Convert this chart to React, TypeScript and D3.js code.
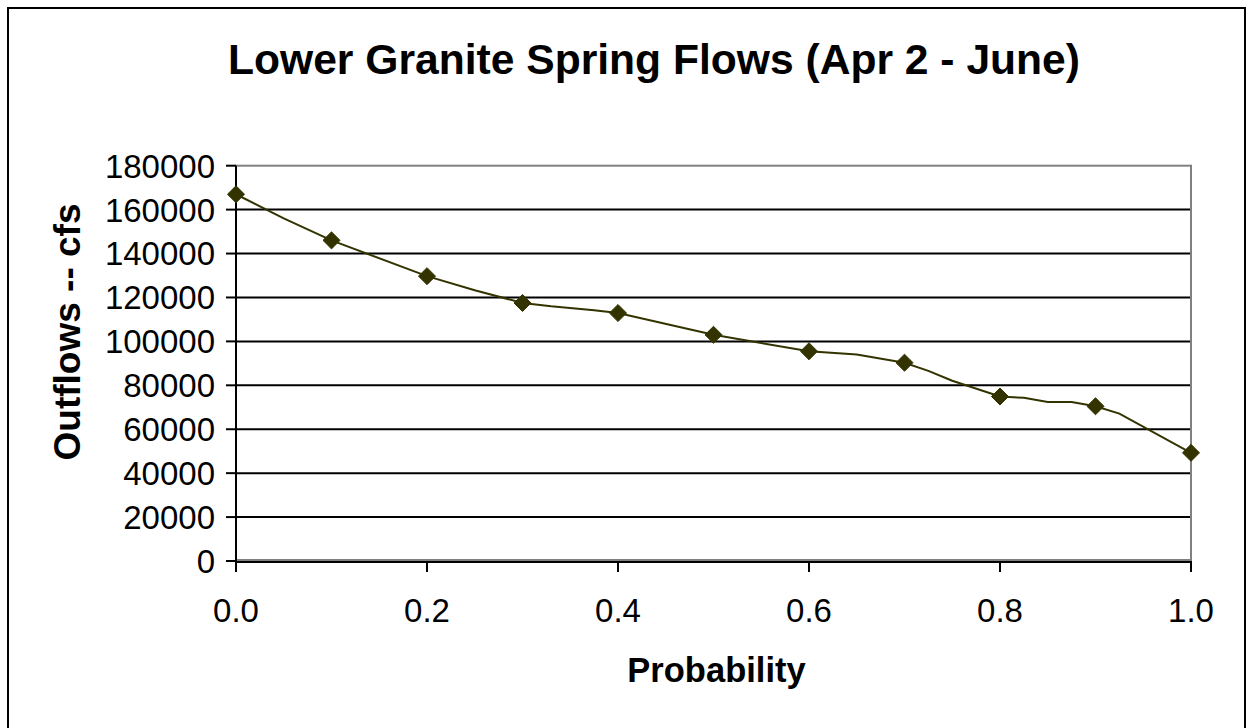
import React from "react";
import * as d3 from "d3";

const title = "Lower Granite Spring Flows (Apr 2 - June)";
const xTitle = "Probability";
const yTitle = "Outflows -- cfs";

// marker points (every 0.1)
const markerProb = [0.0, 0.1, 0.2, 0.3, 0.4, 0.5, 0.6, 0.7, 0.8, 0.9, 1.0];
const markerFlow = [167000, 146000, 129700, 117500, 112900, 103000, 95500, 90300, 74900, 70450, 49250];

// line points (polyline through more points)
const lineProb = [0.0, 0.05, 0.1, 0.2, 0.25, 0.3, 0.33, 0.375, 0.4, 0.5, 0.6, 0.65, 0.7, 0.725, 0.75, 0.8, 0.825, 0.85, 0.875, 0.9, 0.925, 1.0];
const lineFlow = [167000, 156000, 146000, 129700, 123300, 117500, 116000, 114200, 112900, 103000, 95500, 94000, 90300, 86600, 82100, 74900, 74300, 72400, 72400, 70450, 67100, 49250];

const yTicks = [0, 20000, 40000, 60000, 80000, 100000, 120000, 140000, 160000, 180000];
const xTicks = [0.0, 0.2, 0.4, 0.6, 0.8, 1.0];

const FONT = "'Liberation Sans', Arial, Helvetica, sans-serif";
const LINE_COLOR = "#333300";

export default function App() {
  const left = 236, right = 1191, top = 165.7, bottom = 561;
  const x = d3.scaleLinear().domain([0, 1]).range([left, right]);
  const y = d3.scaleLinear().domain([0, 180000]).range([bottom, top]);

  const linePts: [number, number][] = lineProb.map((p, i) => [p, lineFlow[i]]);
  const lineGen = d3.line<[number, number]>().x(d => x(d[0])).y(d => y(d[1]));
  const diamond = d3.symbol().type(d3.symbolDiamond2).size(185)();

  return (
    <svg width={1250} height={728} style={{ position: "absolute", left: 0, top: 0, background: "#fff" }} fontFamily={FONT}>
      <rect x={0} y={0} width={1250} height={728} fill="#fff" />
      <rect x={8} y={8} width={1237} height={740} fill="none" stroke="#000" strokeWidth={2} />

      <text x={654} y={74} textAnchor="middle" fontSize={42.6} fontWeight="bold">{title}</text>

      {/* gridlines */}
      {yTicks.filter(v => v > 0 && v < 180000).map(v => (
        <line key={"g" + v} x1={left} x2={right} y1={y(v)} y2={y(v)} stroke="#000" strokeWidth={2} />
      ))}
      {/* plot area border */}
      <rect x={left} y={top} width={right - left} height={bottom - 1 - top} fill="none" stroke="#808080" strokeWidth={2} />

      {/* axes */}
      <line x1={left} x2={left} y1={top} y2={bottom + 11} stroke="#000" strokeWidth={2} />
      <line x1={left} x2={right + 1} y1={bottom + 1} y2={bottom + 1} stroke="#000" strokeWidth={2} />
      {yTicks.map(v => (
        <g key={"y" + v}>
          <line x1={left - 10} x2={left} y1={y(v)} y2={y(v)} stroke="#000" strokeWidth={2} />
          <text x={215} y={y(v)} dy="0.36em" textAnchor="end" fontSize={33}>{String(v)}</text>
        </g>
      ))}
      {xTicks.map(v => (
        <g key={"x" + v}>
          <line x1={x(v)} x2={x(v)} y1={bottom} y2={bottom + 11} stroke="#000" strokeWidth={2} />
          <text x={x(v)} y={622} textAnchor="middle" fontSize={33}>{d3.format(".1f")(v)}</text>
        </g>
      ))}

      <text x={(left + right) / 2 + 3} y={682} textAnchor="middle" fontSize={34.5} fontWeight="bold">{xTitle}</text>
      <text transform={`translate(80, 332) rotate(-90)`} textAnchor="middle" fontSize={37} fontWeight="bold">{yTitle}</text>

      {/* series */}
      <path d={lineGen(linePts) || ""} fill="none" stroke={LINE_COLOR} strokeWidth={2} />
      {markerProb.map((p, i) => (
        <path key={"m" + i} d={diamond || ""} transform={`translate(${x(p)},${y(markerFlow[i])})`} fill={LINE_COLOR} stroke={LINE_COLOR} strokeWidth={1} />
      ))}
    </svg>
  );
}
